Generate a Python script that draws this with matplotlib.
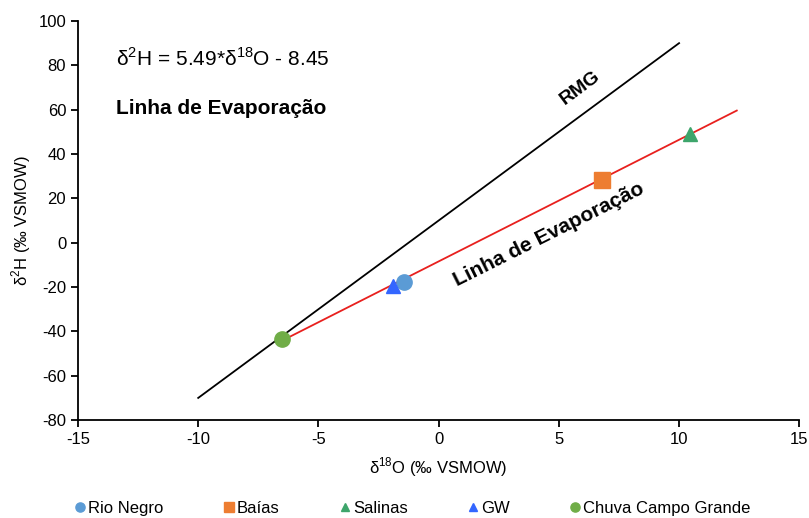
import matplotlib.pyplot as plt

plt.rcParams['font.family'] = ['Liberation Sans', 'DejaVu Sans']
plt.rcParams['mathtext.fontset'] = 'custom'
plt.rcParams['mathtext.rm'] = 'Liberation Sans'
plt.rcParams['axes.unicode_minus'] = False

# dados
series = ["Rio Negro", "Baías", "Salinas", "GW", "Chuva Campo Grande"]
d18o = [-1.45, 6.8, 10.45, -1.9, -6.5]
d2h = [-17.5, 28.3, 49.0, -19.7, -43.5]
markers = ["o", "s", "^", "^", "o"]
colors = ["#5B9BD5", "#ED7D31", "#3DA56B", "#3366FF", "#70AD47"]
sizes = [11, 12, 10, 10, 11]

rmg_x = [-10, 10]
rmg_y = [-70, 90]
evap_x = [-6.5, 12.4]
evap_y = [-44.1, 59.6]

fig = plt.figure(figsize=(8.09, 5.18), dpi=100)
ax = fig.add_axes([0.0964, 0.189, 0.8916, 0.7705])

ax.plot(rmg_x, rmg_y, color="black", lw=1.3)
ax.plot(evap_x, evap_y, color="#E8201E", lw=1.3, zorder=1)

for name, x, y, m, c, s in zip(series, d18o, d2h, markers, colors, sizes):
    ax.plot(x, y, linestyle="none", marker=m, color=c, markersize=s, label=name, zorder=3)

ax.set_xlim(-15, 15)
ax.set_ylim(-80, 100)
ax.set_xticks(range(-15, 16, 5))
ax.set_yticks(range(-80, 101, 20))
ax.spines["top"].set_visible(False)
ax.spines["right"].set_visible(False)
ax.spines["left"].set_linewidth(1.3)
ax.spines["bottom"].set_linewidth(1.3)
ax.tick_params(labelsize=12, width=1.3, length=5)

ax.set_xlabel("δ$^{18}$O (‰ VSMOW)", fontsize=12, labelpad=6)
ax.set_ylabel("δ$^{2}$H (‰ VSMOW)", fontsize=12, labelpad=4)

ax.text(-13.4, 83, "δ$^{2}$H = 5.49*δ$^{18}$O - 8.45", fontsize=15, va="center")
ax.text(-13.4, 60.5, "Linha de Evaporação", fontsize=15, fontweight="bold", va="center")
ax.text(5.9, 69.8, "RMG", fontsize=14, fontweight="bold", rotation=36.5,
        ha="center", va="center")
ax.text(4.6, 3.7, "Linha de Evaporação", fontsize=15, fontweight="bold", rotation=26.5,
        ha="center", va="center")

ax.legend(loc="center", bbox_to_anchor=(0.462, -0.222), ncol=5, frameon=False,
          fontsize=12, markerscale=0.6, handletextpad=0.0, columnspacing=3.4,
          handlelength=1.0)

fig.savefig("out.png", dpi=100)
